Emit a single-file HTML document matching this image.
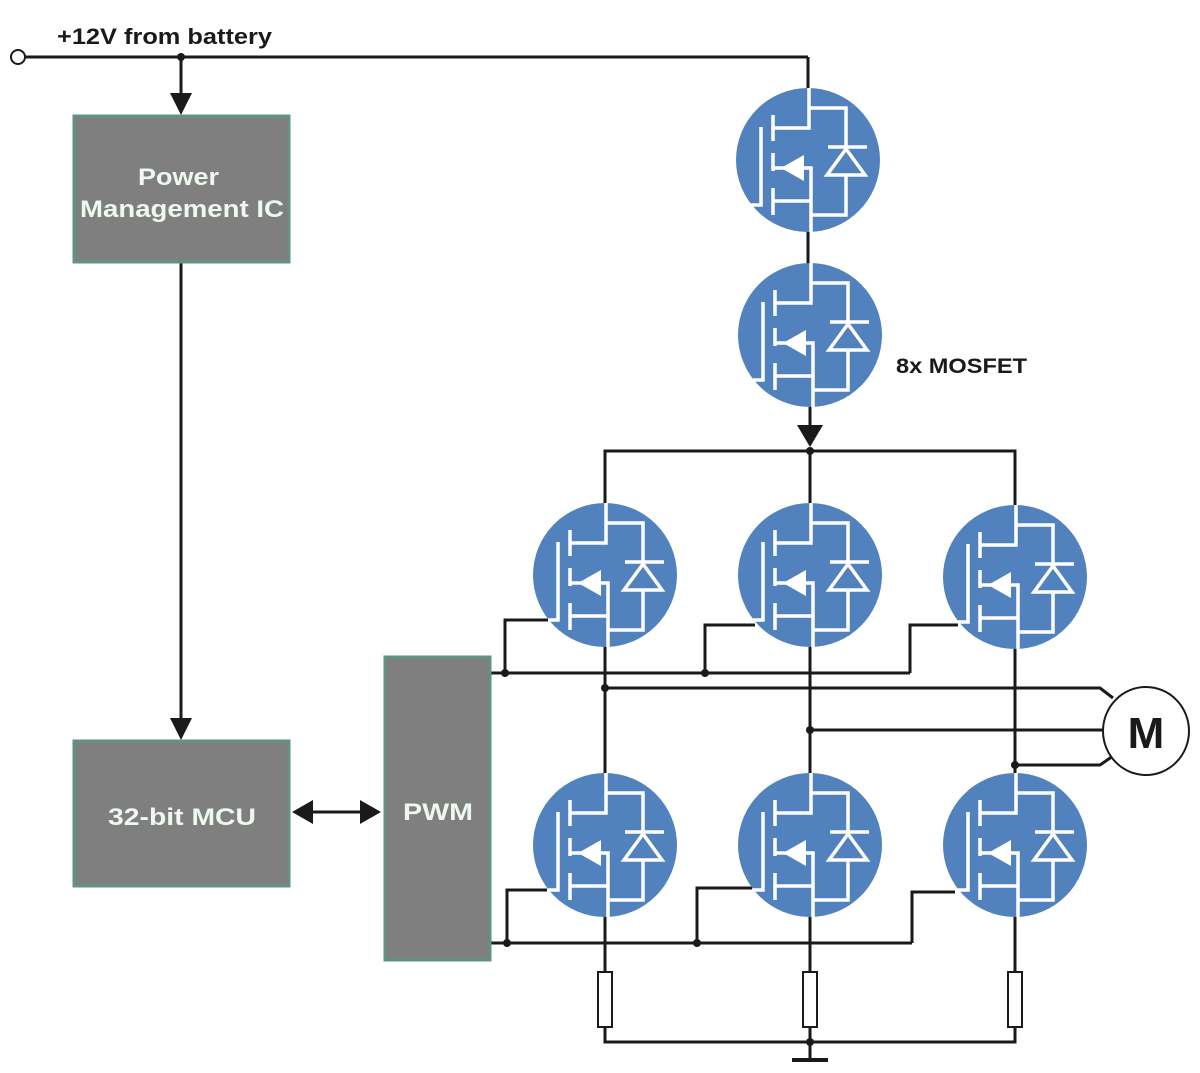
<!DOCTYPE html>
<html><head><meta charset="utf-8"><style>
html,body{margin:0;padding:0;background:#fff;}
svg{display:block}
text{font-family:"Liberation Sans",sans-serif;font-weight:bold}
</style></head><body>
<svg width="1200" height="1073" viewBox="0 0 1200 1073" xmlns="http://www.w3.org/2000/svg">
<defs>
<g id="m">
 <circle cx="0" cy="0" r="72" fill="#5282bd"/>
 <g stroke="#fff" stroke-width="3.5" fill="none">
  <polyline points="1,-72 1,-32 -35,-32"/>
  <polyline points="1,-52 38,-52 38,55 3,55"/>
  <line x1="-35" y1="-45" x2="-35" y2="-19"/>
  <line x1="-35" y1="-7" x2="-35" y2="11"/>
  <line x1="-35" y1="28" x2="-35" y2="55"/>
  <polyline points="-47,-33 -47,45 -57,45"/>
  <polyline points="-35,8 3,8 3,72"/>
  <line x1="-35" y1="41" x2="3" y2="41"/>
  <line x1="20" y1="-13" x2="59" y2="-13"/>
  <polygon points="38,-11 19,15 57,15" fill="#5282bd"/>
 </g>
 <polygon points="-27,8 -4,-5 -4,21" fill="#fff"/>
</g>
</defs>
<g stroke="#1a1a1a" stroke-width="3" fill="none">
 <line x1="25" y1="57" x2="808" y2="57"/>
 <line x1="808" y1="57" x2="808" y2="90"/>
 <line x1="181" y1="57" x2="181" y2="95"/>
 <line x1="181" y1="263" x2="181" y2="720"/>
 <line x1="808" y1="230" x2="808" y2="265"/>
 <line x1="810" y1="405" x2="810" y2="430"/>
 <polyline points="605,505 605,451 1015,451 1015,505"/>
 <line x1="810" y1="451" x2="810" y2="505"/>
 <line x1="605" y1="645" x2="605" y2="775"/>
 <line x1="810" y1="645" x2="810" y2="775"/>
 <line x1="1015" y1="648" x2="1015" y2="775"/>
 <polyline points="605,688 1100,688 1113,698"/>
 <line x1="810" y1="730" x2="1103" y2="730"/>
 <polyline points="1015,765 1100,765 1113,756"/>
 <line x1="490" y1="673" x2="910" y2="673"/>
 <polyline points="505,673 505,620 548,620"/>
 <polyline points="705,673 705,625 755,625"/>
 <polyline points="910,673 910,625 958,625"/>
 <line x1="490" y1="943" x2="912" y2="943"/>
 <polyline points="507,943 507,890 547,890"/>
 <polyline points="697,943 697,888 752,888"/>
 <polyline points="912,943 912,892 955,892"/>
 <line x1="605" y1="915" x2="605" y2="972"/>
 <line x1="810" y1="915" x2="810" y2="972"/>
 <line x1="1015" y1="915" x2="1015" y2="972"/>
 <polyline points="605,1027 605,1042 1015,1042 1015,1027"/>
 <line x1="810" y1="1027" x2="810" y2="1060"/>
 <line x1="792" y1="1060" x2="828" y2="1060" stroke-width="4"/>
 <line x1="300" y1="812" x2="372" y2="812"/>
</g>
<g fill="#fff" stroke="#1a1a1a" stroke-width="2">
 <rect x="598" y="972" width="14" height="55"/>
 <rect x="803" y="972" width="14" height="55"/>
 <rect x="1008" y="972" width="14" height="55"/>
 <circle cx="18" cy="57" r="7"/>
 <ellipse cx="1146" cy="731" rx="43" ry="44"/>
</g>
<g fill="#1a1a1a">
 <polygon points="170,93 192,93 181,115"/>
 <polygon points="170,718 192,718 181,740"/>
 <polygon points="797,425 823,425 810,447"/>
 <polygon points="292,812 313,800 313,824"/>
 <polygon points="381,812 360,800 360,824"/>
 <circle cx="181" cy="57" r="4"/>
 <circle cx="810" cy="451" r="4"/>
 <circle cx="505" cy="673" r="4"/>
 <circle cx="705" cy="673" r="4"/>
 <circle cx="605" cy="688" r="4"/>
 <circle cx="810" cy="730" r="4"/>
 <circle cx="1015" cy="765" r="4"/>
 <circle cx="507" cy="943" r="4"/>
 <circle cx="697" cy="943" r="4"/>
 <circle cx="810" cy="1042" r="4"/>
</g>
<use href="#m" x="808" y="160"/>
<use href="#m" x="810" y="335"/>
<use href="#m" x="605" y="575"/>
<use href="#m" x="810" y="575"/>
<use href="#m" x="1015" y="577"/>
<use href="#m" x="605" y="845"/>
<use href="#m" x="810" y="845"/>
<use href="#m" x="1015" y="845"/>
<g fill="#7f7f7f" stroke="#5f9384" stroke-width="3">
 <rect x="74" y="116" width="215" height="146"/>
 <rect x="74" y="741" width="215" height="145"/>
 <rect x="385" y="657" width="105" height="303"/>
</g>
<g fill="#eef8ee" font-size="24">
 <text x="138" y="185" textLength="81" lengthAdjust="spacingAndGlyphs">Power</text>
 <text x="80" y="217" textLength="204" lengthAdjust="spacingAndGlyphs">Management IC</text>
 <text x="108" y="825" textLength="148" lengthAdjust="spacingAndGlyphs">32-bit MCU</text>
 <text x="403" y="820" textLength="70" lengthAdjust="spacingAndGlyphs">PWM</text>
</g>
<text x="57" y="44" font-size="22" fill="#1a1a1a" textLength="215" lengthAdjust="spacingAndGlyphs">+12V from battery</text>
<text x="896" y="373" font-size="21" fill="#1a1a1a" textLength="131" lengthAdjust="spacingAndGlyphs">8x MOSFET</text>
<text x="1146" y="748" font-size="44" fill="#1a1a1a" text-anchor="middle">M</text>
</svg>
</body></html>
